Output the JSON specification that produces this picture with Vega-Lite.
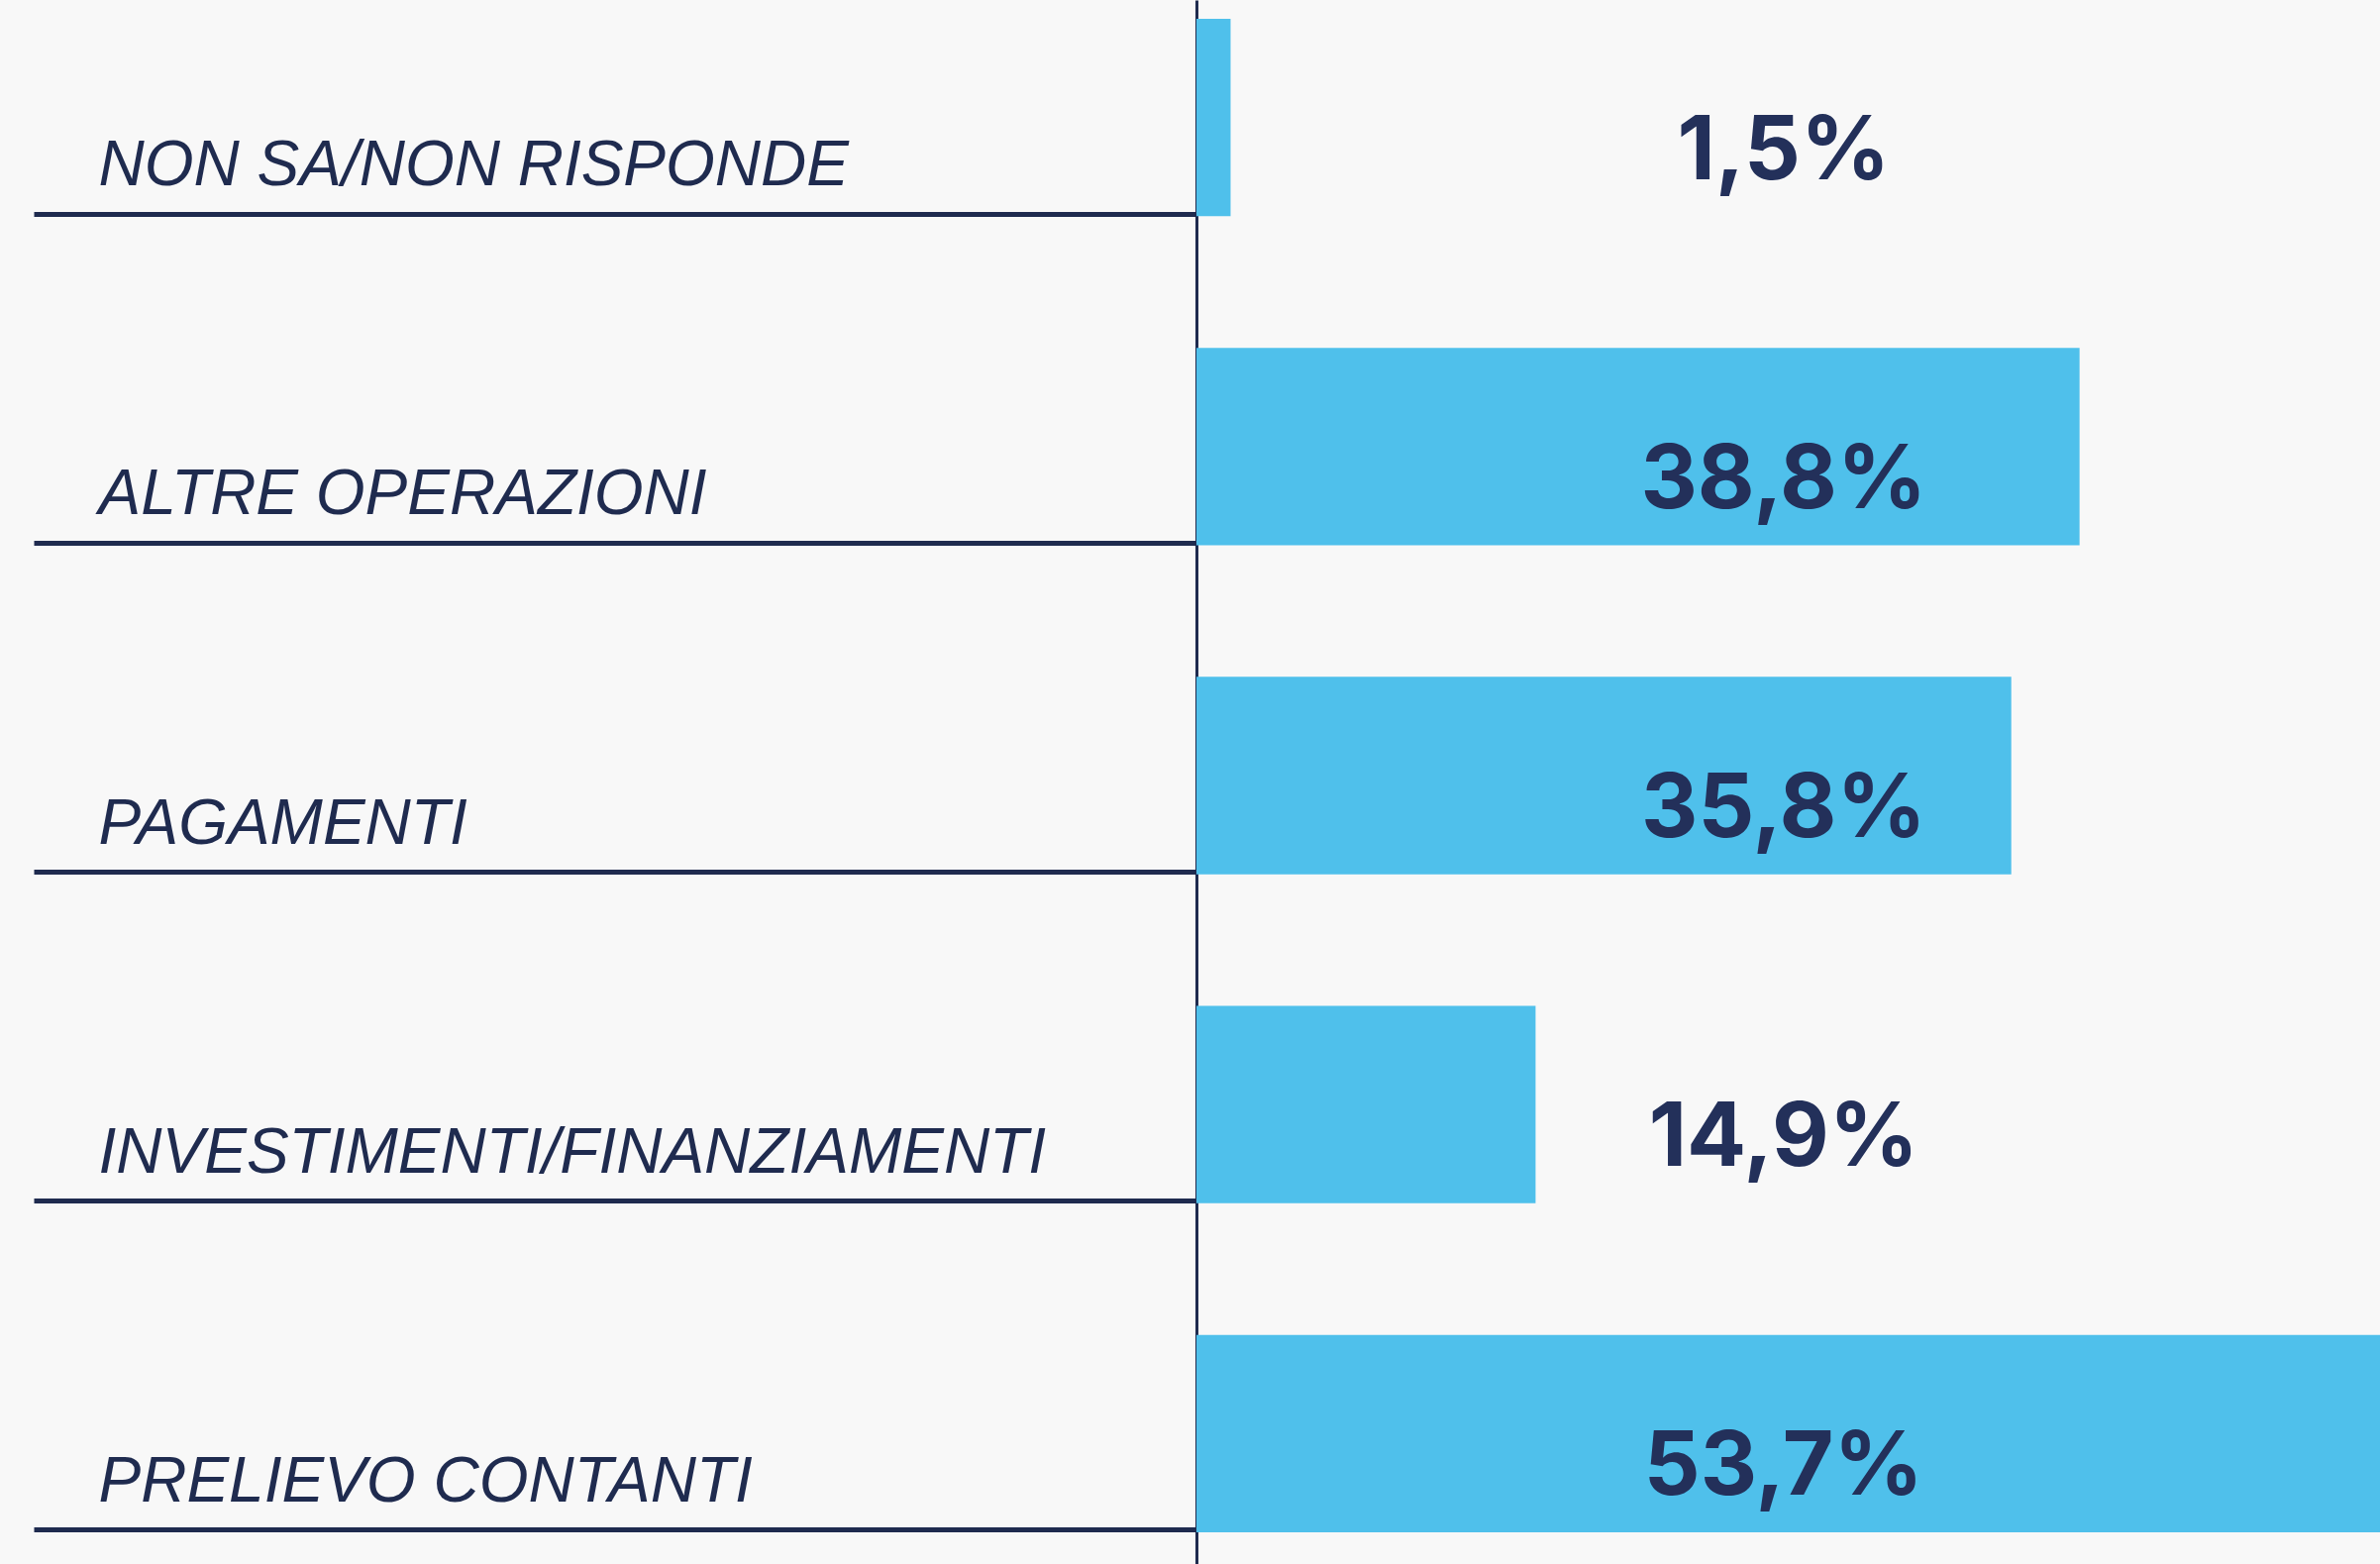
{
  "$schema": "https://vega.github.io/schema/vega-lite/v6.json",
  "autosize": "none",
  "width": 1195,
  "height": 1579,
  "padding": {"left": 1208, "top": 0, "right": 0, "bottom": 0},
  "background": "#f8f8f8",
  "config": {"view": {"stroke": null}},
  "data": {
    "values": [
      {"cat": "NON SA/NON RISPONDE", "value": 1.5, "label": "1,5%"},
      {"cat": "ALTRE OPERAZIONI", "value": 38.8, "label": "38,8%"},
      {"cat": "PAGAMENTI", "value": 35.8, "label": "35,8%"},
      {"cat": "INVESTIMENTI/FINANZIAMENTI", "value": 14.9, "label": "14,9%"},
      {"cat": "PRELIEVO CONTANTI", "value": 53.7, "label": "53,7%"}
    ]
  },
  "encoding": {
    "y": {
      "field": "cat",
      "type": "nominal",
      "sort": null,
      "scale": {"paddingInner": 0.4, "paddingOuter": 0.0768, "align": 0.373},
      "axis": {
        "title": null,
        "orient": "left",
        "domain": true,
        "domainColor": "#1f2b4f",
        "domainWidth": 3,
        "ticks": true,
        "tickSize": 1174,
        "tickWidth": 5,
        "tickColor": "#1f2b4f",
        "tickOffset": 97,
        "labelAlign": "left",
        "labelBaseline": "alphabetic",
        "labelPadding": -65,
        "labelOffset": -29,
        "labelLimit": 1100,
        "labelFont": "Liberation Sans",
        "labelFontStyle": "italic",
        "labelFontSize": 64,
        "labelColor": "#1f2b4f",
        "grid": false
      }
    }
  },
  "layer": [
    {
      "mark": {"type": "bar", "color": "#4fc0eb", "clip": true},
      "encoding": {
        "x": {"field": "value", "type": "quantitative", "scale": {"domain": [0, 52], "nice": false}, "axis": null}
      }
    },
    {
      "mark": {"type": "text", "align": "center", "baseline": "alphabetic", "dy": 62, "font": "Inter", "fontWeight": "bold", "fontSize": 89, "color": "#23305a"},
      "encoding": {
        "x": {"datum": 25.8, "type": "quantitative"},
        "text": {"field": "label"}
      }
    }
  ]
}
